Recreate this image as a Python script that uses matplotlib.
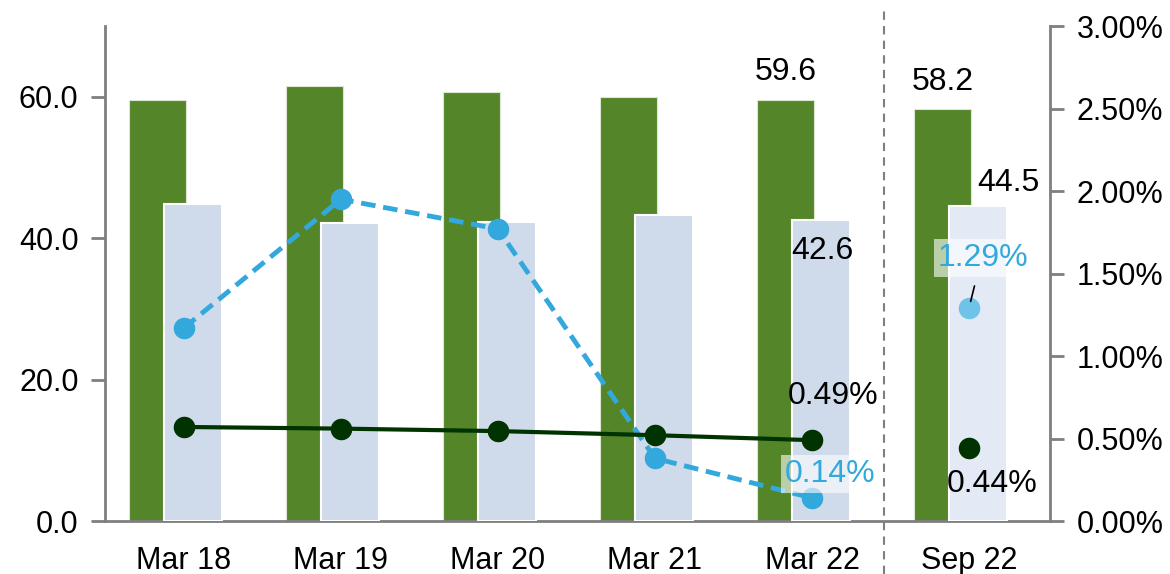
import numpy as np
import matplotlib.pyplot as plt

plt.rcParams['font.family'] = ['Liberation Sans', 'DejaVu Sans']

# Data
periods = ['Mar 18', 'Mar 19', 'Mar 20', 'Mar 21', 'Mar 22', 'Sep 22']
green_vals = [59.5, 61.5, 60.7, 59.9, 59.6, 58.2]
light_vals = [44.9, 42.1, 42.3, 43.3, 42.6, 44.5]
blue_pct = [1.17, 1.95, 1.77, 0.38, 0.14, 1.29]
dark_pct = [0.57, 0.56, 0.545, 0.52, 0.49, 0.44]

GREEN = '#548629'
LIGHT = '#CFDAEA'
LIGHT_SEP = '#E3EAF5'
BLUE = '#33A8DC'
BLUE_SEP = '#6FC2E8'
DARK = '#003300'
GREY = '#7F7F7F'
FS = 22

x = np.arange(len(periods))
fig = plt.figure(figsize=(11.7, 5.74), dpi=100)
ax = fig.add_axes([0.0897, 0.0923, 0.8077, 0.8624])
ax2 = ax.twinx()

# bars (left axis)
ax.bar(x - 0.169, green_vals, width=0.363, color=GREEN, edgecolor='#DDE6D3', linewidth=0.8, zorder=2)
light_cols = [LIGHT] * 5 + [LIGHT_SEP]
ax.bar(x + 0.057, light_vals, width=0.37, color=light_cols, edgecolor='white', linewidth=1.5, zorder=3)

ax.set_xlim(-0.503, 5.516)
ax.set_ylim(0, 70)
ax.set_yticks([0, 20, 40, 60])
ax.set_yticklabels([f'{v:.1f}' for v in [0, 20, 40, 60]])
ax.set_xticks(x)
ax.set_xticklabels(periods)

# lines (right axis)
ax2.plot(x[:5], blue_pct[:5], color=BLUE, lw=3.5, ls=(0, (3, 1.6)), marker='o', ms=14.5, zorder=4)
ax2.plot(x[5], blue_pct[5], color=BLUE_SEP, marker='o', ms=14.5, zorder=4)
ax2.plot(x[:5], dark_pct[:5], color=DARK, lw=3, marker='o', ms=14.5, zorder=5)
ax2.plot(x[5], dark_pct[5], color=DARK, marker='o', ms=14.5, zorder=5)
ax2.set_ylim(0, 3.0)
ax2.set_yticks(np.arange(0, 3.01, 0.5))
ax2.set_yticklabels([f'{v:.2f}%' for v in np.arange(0, 3.01, 0.5)])

for a in (ax, ax2):
    a.spines['top'].set_visible(False)
    for s in ('left', 'right', 'bottom'):
        a.spines[s].set_color(GREY)
        a.spines[s].set_linewidth(2)
    a.tick_params(axis='y', colors=GREY, width=2, length=10, labelsize=FS, labelcolor='black', pad=9)
    a.tick_params(axis='x', length=0, labelsize=FS, pad=18)
ax.spines['right'].set_visible(False)
ax2.spines['left'].set_visible(False)
ax2.spines['bottom'].set_visible(False)

# separator before the half-year column
ax.plot([4.459, 4.459], [-0.107, 1.032], color=GREY, lw=1.5, ls=(0, (4, 3)),
        transform=ax.get_xaxis_transform(), clip_on=False, zorder=1)

# value labels
def note(axis, txt, xy, off, color='black', box=False):
    kw = dict(textcoords='offset points', ha='center', va='center', fontsize=23, color=color, zorder=10)
    if box:
        kw['bbox'] = dict(boxstyle='square,pad=0.12', fc='white', ec='none', alpha=0.6)
    axis.annotate(txt, xy=xy, xytext=off, **kw)

note(ax2, f'{green_vals[4]:.1f}', (4 - 0.169, green_vals[4] * 3 / 70), (0, 20))
note(ax2, f'{light_vals[4]:.1f}', (4 + 0.057, light_vals[4] * 3 / 70), (1, -22.5))
note(ax2, f'{green_vals[5]:.1f}', (5 - 0.169, green_vals[5] * 3 / 70), (0, 20))
note(ax2, f'{light_vals[5]:.1f}', (5 + 0.057, light_vals[5] * 3 / 70), (22, 17))
note(ax2, f'{dark_pct[4]:.2f}%', (4, dark_pct[4]), (15, 31.5))
note(ax2, f'{blue_pct[4]:.2f}%', (4, blue_pct[4]), (13, 17), color=BLUE, box=True)
note(ax2, f'{blue_pct[5]:.2f}%', (5, blue_pct[5]), (10, 36), color=BLUE, box=True)
note(ax2, f'{dark_pct[5]:.2f}%', (5, dark_pct[5]), (17, -25.5))
# leader for the Sep 22 rate label
ax2.annotate('', xy=(5, blue_pct[5]), xytext=(4, 16), textcoords='offset points',
             arrowprops=dict(arrowstyle='-', color='black', lw=1.2, shrinkA=0, shrinkB=5),
             zorder=10)

fig.savefig('out.png', dpi=100)
